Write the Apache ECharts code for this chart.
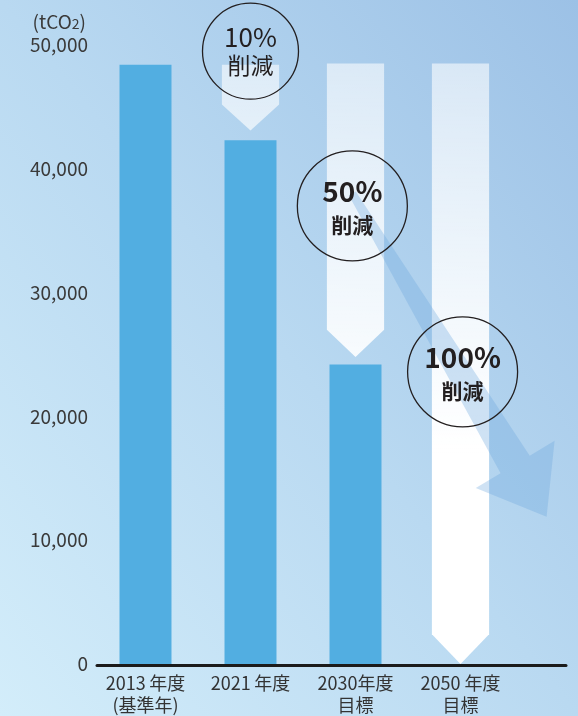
<!DOCTYPE html>
<html>
<head>
<meta charset="utf-8">
<script src="https://cdn.jsdelivr.net/npm/echarts@6/dist/echarts.min.js"></script>
<style>
html,body{margin:0;padding:0;}
#c{width:578px;height:716px;background:linear-gradient(to top right,#d3edfa 0%,#b9d9f1 50%,#9cc1e6 100%);}
</style>
</head>
<body>
<div id="c"></div>
<script>
// ---- data ----
const categories = ['2013\u2009年度\n(基準年)', '2021\u2009年度', '2030年度\n目標', '2050 年度\n目標'];
const emissions = [48400, 42300, 24200, 0];
// reduction arrows: [category index, top value, shaft end value, tip value]
const reductionArrows = [
  [1, 48400, 45200, 43100],
  [2, 48500, 27000, 24800],
  [3, 48500, 2400, 0]
];
// reduction badges: [category index, centre value, label]
const badges = [
  [1, 49500, '10%'],
  [2, 37000, '50%'],
  [3, 23600, '100%']
];
const badgeText = '削減';
// trend arrow: [start category, start value, end category, end value]
const trend = [[2, 38000, 3, 11900]];
const yMin = 0, yMax = 50000, yStep = 10000;
const unitName = '(tCO{s|2})';

const FONT = 'Noto Sans CJK JP';
const chart = echarts.init(document.getElementById('c'), null, {renderer: 'canvas'});

function arrowRender(params, api) {
  const c = api.value(0);
  const top = api.coord([c, api.value(1)]);
  const mid = api.coord([c, api.value(2)]);
  const tip = api.coord([c, api.value(3)]);
  const h = api.size([1, 0])[0] * 0.545 / 2;
  const x = top[0];
  const gy0 = api.coord([0, 48500])[1];
  const gy1 = api.coord([0, 17000])[1];
  return {
    type: 'polygon',
    shape: {points: [[x - h, top[1]], [x + h, top[1]], [x + h, mid[1]], [x, tip[1]], [x - h, mid[1]]]},
    style: {
      fill: {
        type: 'linear', x: 0, y: gy0, x2: 0, y2: gy1, global: true,
        colorStops: [{offset: 0, color: 'rgba(255,255,255,0.58)'}, {offset: 1, color: 'rgba(255,255,255,1)'}]
      }
    }
  };
}

function trendRender(params, api) {
  const band = api.size([1, 0])[0];
  const s = api.coord([api.value(0), api.value(1)]);
  const e = api.coord([api.value(2), api.value(3)]);
  s[0] -= band * 0.03;
  e[0] += band * 0.82;
  const dx = e[0] - s[0], dy = e[1] - s[1];
  const L = Math.sqrt(dx * dx + dy * dy);
  const ux = dx / L, uy = dy / L;
  const px = -uy, py = ux;
  const headLen = 61, hw0 = 4, hw1 = 17, hh = 46;
  const bx = s[0] + ux * (L - headLen), by = s[1] + uy * (L - headLen);
  const P = (x, y, k) => [x + px * k, y + py * k];
  const pts = [
    P(s[0], s[1], hw0), P(bx, by, hw1), P(bx, by, hh), [e[0], e[1]],
    P(bx, by, -hh), P(bx, by, -hw1), P(s[0], s[1], -hw0)
  ];
  return {type: 'polygon', shape: {points: pts}, style: {fill: 'rgba(105,165,222,0.32)'}};
}

function badgeRender(params, api) {
  const i = params.dataIndex;
  const c = api.coord([api.value(0), api.value(1)]);
  const band = api.size([1, 0])[0];
  const xOff = [0, -0.03, 0.02][i] * band;
  const cx = c[0] + xOff, cy = c[1];
  const bold = i > 0;
  const r = bold ? 55 : 48;
  const label = api.value(2);
  return {
    type: 'group',
    children: [
      {type: 'circle', shape: {cx: cx, cy: cy, r: r}, style: {fill: 'none', stroke: '#231f20', lineWidth: 1.3}},
      {type: 'text', x: cx, y: cy + (bold ? -14.5 : -14), style: {
        text: label, fill: '#231f20', font: (bold ? 'bold ' : '') + (bold ? 28 : 26) + 'px "' + FONT + '"',
        align: 'center', verticalAlign: 'middle'}},
      {type: 'text', x: cx, y: cy + (bold ? 19 : 14.5), style: {
        text: badgeText, fill: '#231f20', font: (bold ? 'bold ' : '') + (bold ? 21 : 23) + 'px "' + FONT + '"',
        align: 'center', verticalAlign: 'middle'}}
    ]
  };
}

chart.setOption({
  backgroundColor: 'transparent',
  animation: false,
  textStyle: {fontFamily: FONT},
  grid: [
    {left: 93, width: 420, top: 45, bottom: 51, containLabel: false},
    {left: 97, right: 12, top: 45, bottom: 51, containLabel: false}
  ],
  xAxis: [
    {
      type: 'category', gridIndex: 0, data: categories,
      axisLine: {show: false}, axisTick: {show: false},
      axisLabel: {color: '#333', fontSize: 18, lineHeight: 22, margin: 8, fontFamily: FONT, interval: 0}
    },
    {
      type: 'category', gridIndex: 1, data: [''],
      axisLine: {show: true, lineStyle: {color: '#1b1b1b', width: 3}},
      axisTick: {show: false}, axisLabel: {show: false}
    }
  ],
  yAxis: [
    {
      type: 'value', gridIndex: 0, min: yMin, max: yMax, interval: yStep,
      name: unitName, nameLocation: 'end', nameGap: 14,
      nameTextStyle: {color: '#3a3a3a', fontSize: 19, align: 'right', padding: [0, 7, 0, 0], fontFamily: FONT,
        rich: {s: {fontSize: 14, color: '#3a3a3a', fontFamily: FONT, padding: [5, 0, 0, 0]}}},
      axisLine: {show: false}, axisTick: {show: false}, splitLine: {show: false},
      axisLabel: {color: '#3a3a3a', fontSize: 19, margin: 5, fontFamily: FONT,
        formatter: v => v.toLocaleString('en-US')}
    },
    {type: 'value', gridIndex: 1, show: false}
  ],
  series: [
    {
      type: 'custom', xAxisIndex: 0, yAxisIndex: 0, renderItem: arrowRender,
      data: reductionArrows, encode: {x: 0, y: [1, 2, 3]}, silent: true, z: 1
    },
    {
      type: 'bar', xAxisIndex: 0, yAxisIndex: 0, data: emissions, barWidth: '49.5%',
      itemStyle: {color: '#52aee1'}, z: 2
    },
    {
      type: 'custom', xAxisIndex: 0, yAxisIndex: 0, renderItem: trendRender,
      data: trend, encode: {x: [0, 2], y: [1, 3]}, silent: true, z: 3
    },
    {
      type: 'custom', xAxisIndex: 0, yAxisIndex: 0, renderItem: badgeRender,
      data: badges, encode: {x: 0, y: 1}, silent: true, z: 4
    }
  ]
});
</script>
</body>
</html>
